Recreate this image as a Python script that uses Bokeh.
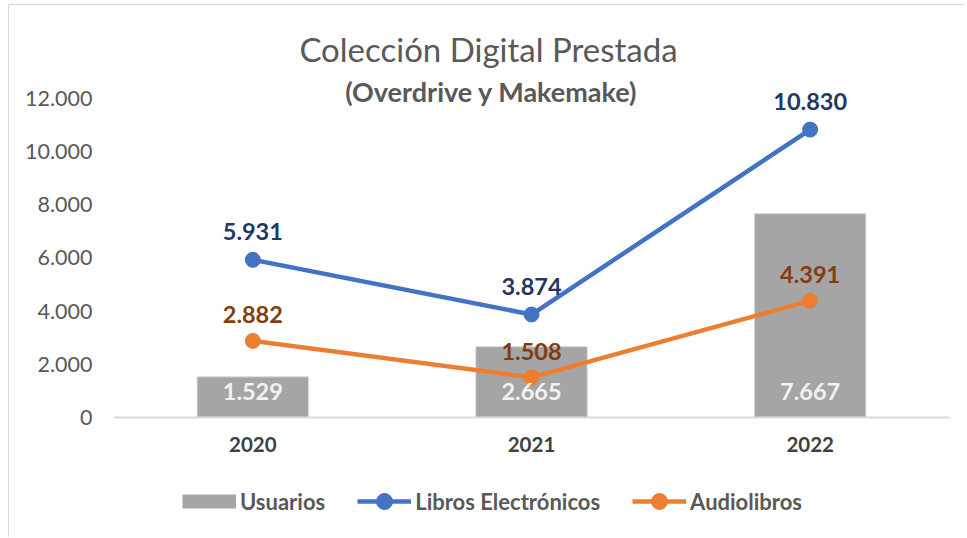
from bokeh.plotting import figure
from bokeh.models import (FactorRange, Range1d, ColumnDataSource, Legend, LegendItem,
                          Label, LabelSet, CustomJSTickFormatter, FixedTicker)
from bokeh.core.properties import value
from bokeh.embed import file_html
from bokeh.resources import INLINE

# ---- data ----
years = ["2020", "2021", "2022"]
usuarios = [1529, 2665, 7667]
libros = [5931, 3874, 10830]
audiolibros = [2882, 1508, 4391]
y_ticks = [0, 2000, 4000, 6000, 8000, 10000, 12000]
title_text = "Colección Digital Prestada"
subtitle_text = "(Overdrive y Makemake)"


def fmt(v):
    return f"{v:,}".replace(",", ".")


src = ColumnDataSource(dict(
    x=years, u=usuarios, l=libros, a=audiolibros, zero=[0] * len(years),
    ut=[fmt(v) for v in usuarios], lt=[fmt(v) for v in libros], at=[fmt(v) for v in audiolibros],
))

FONT = "Lato"
GRAY = "#595959"

# frame spans the full height; value axis 0..12000 occupies the middle part
p = figure(x_range=FactorRange(*years), y_range=Range1d(-4552, 15498),
           width=957, height=533, output_backend="svg", toolbar_location=None,
           min_border_left=104, min_border_right=17, min_border_top=0, min_border_bottom=0)
p.styles = {"border-left": "1px solid #D9D9D9", "border-top": "1px solid #D9D9D9",
            "margin-left": "8px", "margin-top": "4px"}
p.outline_line_color = None
p.xgrid.grid_line_color = None
p.ygrid.grid_line_color = None

# axes
p.yaxis.ticker = FixedTicker(ticks=y_ticks)
p.yaxis.formatter = CustomJSTickFormatter(code="return tick.toString().replace(/\\B(?=(\\d{3})+(?!\\d))/g, '.');")
p.yaxis.axis_line_color = None
p.yaxis.major_tick_line_color = None
p.yaxis.major_tick_out = 0
p.yaxis.major_tick_in = 0
p.yaxis.minor_tick_line_color = None
p.yaxis.major_label_text_font = FONT
p.yaxis.major_label_text_font_size = "21.5px"
p.yaxis.major_label_text_color = GRAY
p.yaxis.major_label_standoff = 21

p.xaxis.fixed_location = 0
p.xaxis.axis_line_color = "#D9D9D9"
p.xaxis.axis_line_width = 2
p.xaxis.major_tick_line_color = None
p.xaxis.major_tick_out = 0
p.xaxis.major_tick_in = 0
p.xaxis.minor_tick_line_color = None
p.xaxis.major_label_text_font = FONT
p.xaxis.major_label_text_font_size = "20.5px"
p.xaxis.major_label_text_font_style = "bold"
p.xaxis.major_label_text_color = "#404040"
p.xaxis.major_label_standoff = 20

# glyphs
bars = p.vbar(x="x", top="u", width=0.4, source=src, fill_color="#A5A5A5", line_color="#D9D9D9", line_width=1)
l_line = p.line(x="x", y="l", source=src, line_color="#4472C4", line_width=4.5)
l_pts = p.scatter(x="x", y="l", source=src, size=15, fill_color="#4472C4", line_color="#4472C4")
a_line = p.line(x="x", y="a", source=src, line_color="#ED7D31", line_width=4.5)
a_pts = p.scatter(x="x", y="a", source=src, size=15, fill_color="#ED7D31", line_color="#ED7D31")

# legend swatch for bars (hidden on the plot, only drawn in the legend)
bar_swatch = p.line(x="x", y="u", source=src, line_color="#A5A5A5", line_width=14,
                    line_cap="butt", visible=False)

# data labels
common = dict(source=src, text_font=value(FONT), text_font_size="23.5px", text_font_style="bold",
              text_align="center", text_baseline="middle")
p.add_layout(LabelSet(x="x", y="zero", text="ut", y_offset=26, text_color="#F2F2F2", **common))
p.add_layout(LabelSet(x="x", y="l", text="lt", y_offset=28, text_color="#1F3864", **common))
p.add_layout(LabelSet(x="x", y="a", text="at", y_offset=26, text_color="#843C0C", **common))

# titles (screen units, relative to the frame's bottom-left corner)
p.add_layout(Label(x=375, y=490, x_units="screen", y_units="screen", text=title_text,
                   text_font=FONT, text_font_size="33px", text_color=GRAY,
                   text_align="center", text_baseline="middle"))
p.add_layout(Label(x=378, y=447, x_units="screen", y_units="screen", text=subtitle_text,
                   text_font=FONT, text_font_size="27px", text_font_style="bold", text_color=GRAY,
                   text_align="center", text_baseline="middle"))

legend = Legend(items=[
    LegendItem(label="Usuarios", renderers=[bar_swatch]),
    LegendItem(label="Libros Electrónicos", renderers=[l_line, l_pts]),
    LegendItem(label="Audiolibros", renderers=[a_line, a_pts]),
], orientation="horizontal", location=(69, 17))
legend.label_text_font = FONT
legend.label_text_font_size = "22px"
legend.label_text_font_style = "bold"
legend.label_text_color = GRAY
legend.glyph_width = 54
legend.glyph_height = 40
legend.label_standoff = 4
legend.spacing = 32
legend.border_line_color = None
legend.background_fill_alpha = 0
legend.inactive_fill_alpha = 0
legend.padding = 0
legend.margin = 0
p.add_layout(legend, "center")

open("out.html", "w").write(file_html(p, INLINE))
